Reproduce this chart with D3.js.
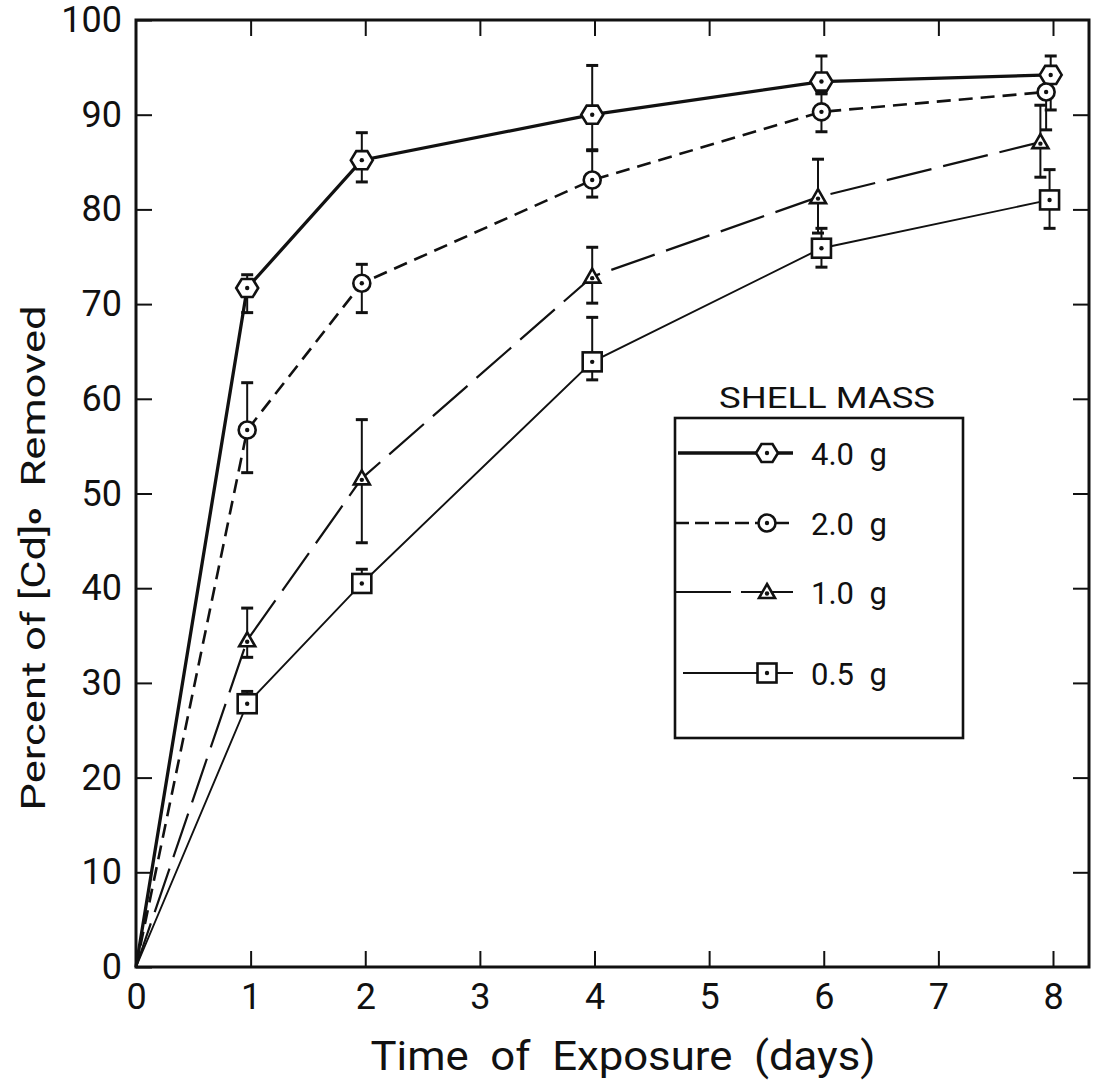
<!DOCTYPE html>
<html>
<head>
<meta charset="utf-8">
<script src="https://cdnjs.cloudflare.com/ajax/libs/d3/7.8.5/d3.min.js"></script>
<style>
  html, body { margin: 0; padding: 0; background: #fff; }
  svg text { font-family: Roboto, "DejaVu Sans", sans-serif; fill: #111; white-space: pre; }
</style>
</head>
<body>
<svg id="chart" width="1096" height="1086"></svg>
<script>
// data
var xTicks = [0, 1, 2, 3, 4, 5, 6, 7, 8];
var yTicks = [0, 10, 20, 30, 40, 50, 60, 70, 80, 90, 100];

var days40 = [0, 0.97, 1.97, 3.98, 5.98, 7.98];
var vals40 = [0, 71.7, 85.2, 90.0, 93.5, 94.2];
var hi40   = [null, 73.1, 88.1, 95.2, 96.2, 96.2];
var lo40   = [null, 69.1, 82.9, 86.3, 92.2, 90.5];

var days20 = [0, 0.97, 1.97, 3.98, 5.98, 7.94];
var vals20 = [0, 56.7, 72.2, 83.1, 90.3, 92.4];
var hi20   = [null, 61.7, 74.2, 86.2, 92.3, 94.3];
var lo20   = [null, 52.2, 69.1, 81.3, 88.2, 88.4];

var days10 = [0, 0.97, 1.97, 3.98, 5.95, 7.89];
var vals10 = [0, 34.5, 51.6, 72.9, 81.3, 87.1];
var hi10   = [null, 37.9, 57.8, 76.0, 85.3, 91.0];
var lo10   = [null, 32.7, 44.8, 70.1, 77.5, 83.4];

var days05 = [0, 0.97, 1.97, 3.98, 5.98, 7.97];
var vals05 = [0, 27.8, 40.5, 63.9, 75.9, 81.0];
var hi05   = [null, 29.1, 42.0, 68.6, 78.0, 84.2];
var lo05   = [null, 27.0, 40.0, 62.0, 73.9, 78.0];

var labels = ["4.0  g", "2.0  g", "1.0  g", "0.5  g"];

var series = [
  {label: labels[0], x: days40, y: vals40, hi: hi40, lo: lo40, marker: "hex",    width: 3.3, dash: null},
  {label: labels[1], x: days20, y: vals20, hi: hi20, lo: lo20, marker: "circle", width: 2.6, dash: "14,8"},
  {label: labels[2], x: days10, y: vals10, hi: hi10, lo: lo10, marker: "tri",    width: 2.2, dash: "46,12"},
  {label: labels[3], x: days05, y: vals05, hi: hi05, lo: lo05, marker: "square", width: 1.9, dash: null}
];

var svg = d3.select("#chart");
var plotL = 136, plotR = 1089, plotT = 20, plotB = 967;

var x = d3.scaleLinear().domain([0, 8]).range([plotL, 1053]);
var y = d3.scaleLinear().domain([0, 100]).range([plotB, plotT]);

// frame
svg.append("rect")
  .attr("x", plotL).attr("y", plotT)
  .attr("width", plotR - plotL).attr("height", plotB - plotT)
  .attr("fill", "none").attr("stroke", "#111").attr("stroke-width", 3);

// inward ticks on all four sides
var tickLen = 16;
svg.append("g").attr("transform", "translate(0," + plotB + ")")
  .call(d3.axisBottom(x).tickValues(xTicks).tickSize(-tickLen).tickPadding(16).tickFormat(d3.format("d")))
  .call(function (g) { g.select(".domain").remove(); });
svg.append("g").attr("transform", "translate(0," + plotT + ")")
  .call(d3.axisTop(x).tickValues(xTicks.slice(1)).tickSize(-tickLen).tickFormat(""))
  .call(function (g) { g.select(".domain").remove(); });
svg.append("g").attr("transform", "translate(" + plotL + ",0)")
  .call(d3.axisLeft(y).tickValues(yTicks).tickSize(-tickLen).tickPadding(14).tickFormat(d3.format("d")))
  .call(function (g) { g.select(".domain").remove(); });
svg.append("g").attr("transform", "translate(" + plotR + ",0)")
  .call(d3.axisRight(y).tickValues(yTicks.slice(1, -1)).tickSize(-tickLen).tickFormat(""))
  .call(function (g) { g.select(".domain").remove(); });

svg.selectAll(".tick line").attr("stroke", "#111").attr("stroke-width", 2);
svg.selectAll(".tick text").attr("fill", "#111").style("font-size", "36px")
  .style("font-family", "Roboto, 'DejaVu Sans', sans-serif");

// axis titles
svg.append("text")
  .attr("x", 623).attr("y", 1070)
  .attr("text-anchor", "middle")
  .attr("textLength", 505).attr("lengthAdjust", "spacingAndGlyphs")
  .style("font-size", "40px")
  .text("Time  of  Exposure  (days)");

var yt = svg.append("text")
  .attr("transform", "translate(45,558) rotate(-90)")
  .attr("text-anchor", "middle")
  .attr("textLength", 505).attr("lengthAdjust", "spacingAndGlyphs")
  .style("font-size", "33px");
yt.append("tspan").text("Percent of [Cd]");
yt.append("tspan").attr("dy", -4).style("font-size", "22px").style("font-weight", "bold").text("o");
yt.append("tspan").attr("dy", 4).text("  Removed");

// marker drawing
function drawMarker(g, type, cx, cy) {
  var m = g.append("g").attr("transform", "translate(" + cx + "," + cy + ")");
  if (type === "hex") {
    var r = 11;
    var pts = d3.range(6).map(function (i) {
      var a = Math.PI / 3 * i;
      return [r * Math.cos(a), r * Math.sin(a) * 0.95];
    });
    m.append("polygon").attr("points", pts.join(" "));
  } else if (type === "circle") {
    m.append("circle").attr("r", 8.5);
  } else if (type === "tri") {
    m.append("polygon").attr("points", "0,-8 8,6 -8,6");
  } else {
    m.append("rect").attr("x", -9.5).attr("y", -9.5).attr("width", 19).attr("height", 19);
  }
  m.selectAll("polygon,circle,rect")
    .attr("fill", "#fff").attr("stroke", "#111").attr("stroke-width", 2.6);
  m.append("circle").attr("r", 2.2).attr("cy", type === "tri" ? 1.5 : 0).attr("fill", "#111");
}

var line = d3.line().x(function (d) { return x(d[0]); }).y(function (d) { return y(d[1]); });

series.forEach(function (s) {
  var pts = s.x.map(function (d, i) { return [d, s.y[i]]; });
  svg.append("path")
    .attr("d", line(pts))
    .attr("fill", "none").attr("stroke", "#111")
    .attr("stroke-width", s.width)
    .attr("stroke-dasharray", s.dash);
});

// error bars
series.forEach(function (s) {
  var g = svg.append("g").attr("stroke", "#111");
  s.x.forEach(function (d, i) {
    if (s.hi[i] == null) return;
    var cx = x(d);
    g.append("line").attr("x1", cx).attr("x2", cx)
      .attr("y1", y(s.hi[i])).attr("y2", y(s.lo[i])).attr("stroke-width", 2);
    [s.hi[i], s.lo[i]].forEach(function (v) {
      g.append("line").attr("x1", cx - 6).attr("x2", cx + 6)
        .attr("y1", y(v)).attr("y2", y(v)).attr("stroke-width", 3);
    });
  });
});

// markers
series.forEach(function (s) {
  var g = svg.append("g");
  s.x.forEach(function (d, i) {
    if (i === 0) return;
    drawMarker(g, s.marker, x(d), y(s.y[i]));
  });
});

// legend
var lg = svg.append("g").attr("transform", "translate(675,418)");
lg.append("rect").attr("width", 288).attr("height", 320)
  .attr("fill", "#fff").attr("stroke", "#111").attr("stroke-width", 2.6);
lg.append("text").attr("x", 152).attr("y", -10).attr("text-anchor", "middle")
  .attr("textLength", 216).attr("lengthAdjust", "spacingAndGlyphs")
  .style("font-size", "29px").text("SHELL MASS");

var rowY = [35, 105, 174, 255];
var lineStart = [3, 0, 0, 8];
series.forEach(function (s, i) {
  var row = lg.append("g").attr("transform", "translate(0," + rowY[i] + ")");
  row.append("line").attr("x1", lineStart[i]).attr("x2", 118)
    .attr("stroke", "#111").attr("stroke-width", s.width)
    .attr("stroke-dasharray", s.marker === "tri" ? "56,10" : (s.marker === "circle" ? "14,6" : null));
  drawMarker(row, s.marker, 92, 0);
  row.append("text").attr("x", 136).attr("y", 12)
    .style("font-size", "31px").text(s.label);
});
</script>
</body>
</html>
